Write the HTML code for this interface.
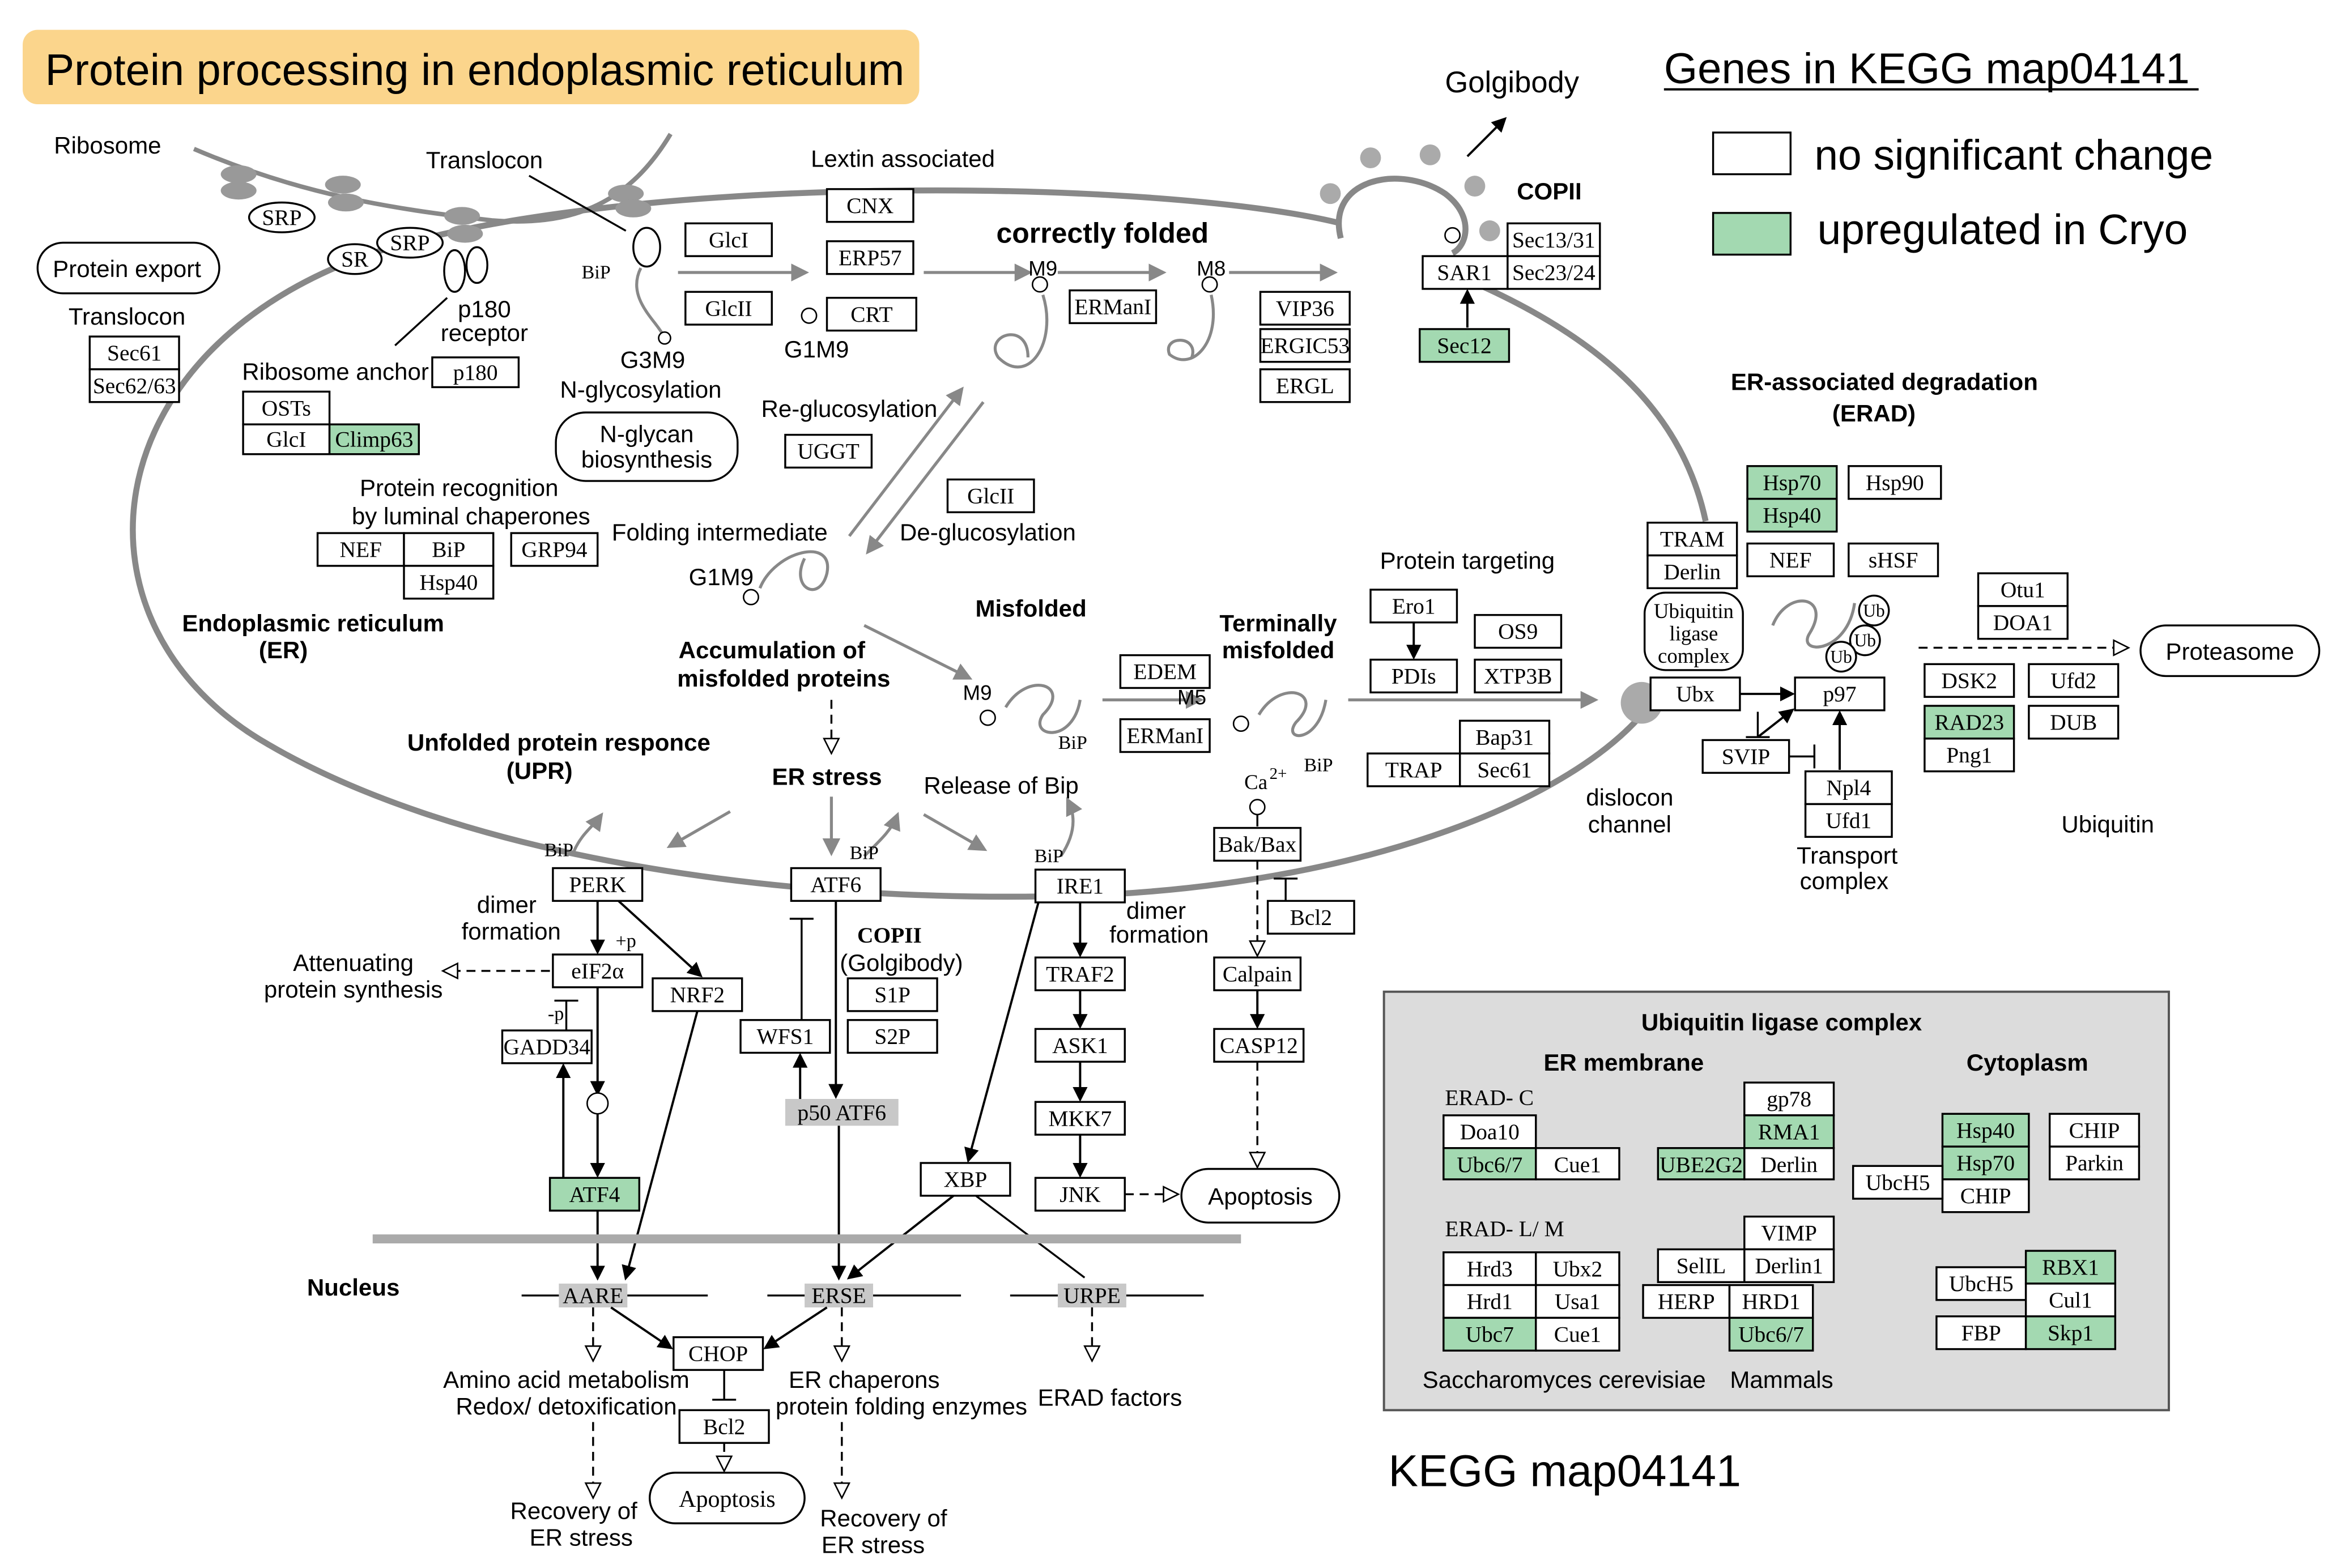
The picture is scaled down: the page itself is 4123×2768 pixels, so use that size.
<!DOCTYPE html>
<html><head><meta charset="utf-8"><style>
html,body{margin:0;padding:0;background:#fff}
svg{display:block}
.b{fill:#fff;stroke:#000;stroke-width:1.3}
.g{fill:#a3d9b1;stroke:#000;stroke-width:1.3}
.gr{fill:#c8c8c8;stroke:none}
.bt{font-family:"Liberation Serif",serif;font-size:15px;text-anchor:middle;fill:#000}
.l{font-family:"Liberation Sans",sans-serif;font-size:16px;fill:#000;text-anchor:middle}
.lb{font-family:"Liberation Sans",sans-serif;font-size:16px;fill:#000;text-anchor:middle;font-weight:bold}
.a{stroke:#000;stroke-width:1.5;fill:none;marker-end:url(#ah)}
.ga{stroke:#888;stroke-width:2;fill:none;marker-end:url(#gah)}
.d{stroke:#000;stroke-width:1.3;fill:none;stroke-dasharray:6,4;marker-end:url(#oh)}
.ln{stroke:#000;stroke-width:1.3;fill:none}
.gl{stroke:#888;stroke-width:2;fill:none}
</style></head><body>
<svg width="4123" height="2768" viewBox="0 0 1568 1053" xmlns="http://www.w3.org/2000/svg">
<defs>
<marker id="ah" markerWidth="10" markerHeight="10" refX="8" refY="5" orient="auto" markerUnits="userSpaceOnUse"><path d="M0,0 L10,5 L0,10 z" fill="#000"/></marker>
<marker id="gah" markerWidth="12" markerHeight="12" refX="9" refY="6" orient="auto" markerUnits="userSpaceOnUse"><path d="M0,0 L12,6 L0,12 z" fill="#888"/></marker>
<marker id="oh" markerWidth="12" markerHeight="12" refX="10" refY="6" orient="auto" markerUnits="userSpaceOnUse"><path d="M1,1 L11,6 L1,11 z" fill="#fff" stroke="#000"/></marker>
</defs>
<rect width="1568" height="1053" fill="#fff"/>
<!-- title -->
<rect x="15" y="20" width="602" height="50" rx="10" fill="#fbd58c"/>
<text x="30" y="57" font-family="Liberation Sans,sans-serif" font-size="29.5">Protein processing in endoplasmic reticulum</text>
<!-- legend -->
<text x="1117" y="56" font-family="Liberation Sans,sans-serif" font-size="29">Genes in KEGG map04141</text>
<line x1="1117" y1="60" x2="1476" y2="60" stroke="#000" stroke-width="1.5"/>
<rect x="1150" y="89" width="52" height="28" class="b"/>
<rect x="1150" y="143" width="52" height="28" class="g"/>
<text x="1218" y="114" font-family="Liberation Sans,sans-serif" font-size="28.5">no significant change</text>
<text x="1220" y="164" font-family="Liberation Sans,sans-serif" font-size="28.5">upregulated in Cryo</text>

<!-- ER ellipse -->
<path d="M900,150 C780,120 420,115 250,170 C60,235 40,420 180,500 C300,570 500,605 700,602 C900,600 1060,540 1110,470" stroke="#888" stroke-width="4" fill="none"/>
<path d="M990,190 C1080,230 1130,280 1145,350" stroke="#888" stroke-width="4" fill="none"/>
<path d="M900,160 C890,120 940,110 970,130 C990,145 985,165 975,170" stroke="#888" stroke-width="4" fill="none"/>
<circle cx="975" cy="158" r="5" fill="#fff" stroke="#000"/>
<g fill="#aaa"><circle cx="893" cy="130" r="7"/><circle cx="920" cy="106" r="7"/><circle cx="960" cy="104" r="7"/><circle cx="990" cy="125" r="7"/><circle cx="1000" cy="155" r="7"/></g>
<path d="M985,105 L1010,80" class="a" stroke="#777"/>
<text x="1015" y="62" class="l" style="font-size:20px">Golgibody</text>
<text x="1040" y="134" class="lb">COPII</text>
<circle cx="1102" cy="472" r="14" fill="#aaa"/>

<!-- ribosome strand -->
<path d="M130,100 C200,130 260,140 330,148 C380,152 420,140 450,90" stroke="#888" stroke-width="3" fill="none"/>
<g fill="#999"><ellipse cx="160" cy="117" rx="12" ry="6"/><ellipse cx="160" cy="128" rx="12" ry="6"/><ellipse cx="230" cy="124" rx="12" ry="6"/><ellipse cx="232" cy="136" rx="12" ry="6"/><ellipse cx="310" cy="145" rx="12" ry="6"/><ellipse cx="312" cy="157" rx="12" ry="6"/><ellipse cx="420" cy="130" rx="12" ry="6"/><ellipse cx="425" cy="140" rx="12" ry="6"/></g>
<text x="72" y="103" class="l">Ribosome</text>
<text x="325" y="113" class="l">Translocon</text>
<line x1="355" y1="118" x2="420" y2="155" class="ln"/>
<ellipse cx="189" cy="146" rx="22" ry="10" class="b"/><text x="189" y="151" class="bt">SRP</text>
<ellipse cx="275" cy="163" rx="22" ry="10" class="b"/><text x="275" y="168" class="bt">SRP</text>
<ellipse cx="238" cy="174" rx="18" ry="10" class="b"/><text x="238" y="179" class="bt">SR</text>
<ellipse cx="305" cy="182" rx="7" ry="14" class="b"/><ellipse cx="320" cy="178" rx="7" ry="12" class="b"/>
<ellipse cx="434" cy="166" rx="9" ry="13" class="b"/>
<text x="400" y="187" class="bt" style="font-size:13px">BiP</text>
<path d="M430,180 C420,200 440,215 445,225" class="gl"/>
<circle cx="446" cy="227" r="4" fill="#fff" stroke="#000"/>
<text x="325" y="213" class="l">p180</text><text x="325" y="229" class="l">receptor</text>
<line x1="300" y1="200" x2="265" y2="232" class="ln"/>
<text x="438" y="247" class="l">G3M9</text>
<text x="430" y="267" class="l">N-glycosylation</text>
<rect x="25" y="163" width="122" height="34" rx="17" class="b"/><text x="85" y="186" class="l">Protein export</text>
<text x="85" y="218" class="l">Translocon</text>
<rect x="60" y="226" width="60" height="22" class="b"/><text x="90" y="242" class="bt">Sec61</text>
<rect x="60" y="248" width="60" height="22" class="b"/><text x="90" y="264" class="bt">Sec62/63</text>
<text x="225" y="255" class="l">Ribosome anchor</text>
<rect x="290" y="240" width="58" height="20" class="b"/><text x="319" y="255" class="bt">p180</text>
<rect x="163" y="263" width="58" height="22" class="b"/><text x="192" y="279" class="bt">OSTs</text>
<rect x="163" y="285" width="58" height="20" class="b"/><text x="192" y="300" class="bt">GlcI</text>
<rect x="221" y="285" width="60" height="20" class="g"/><text x="251" y="300" class="bt">Climp63</text>
<rect x="373" y="277" width="122" height="46" rx="20" class="b"/><text x="434" y="297" class="l">N-glycan</text><text x="434" y="314" class="l">biosynthesis</text>
<text x="308" y="333" class="l">Protein recognition</text><text x="316" y="352" class="l">by luminal chaperones</text>
<rect x="213" y="358" width="58" height="22" class="b"/><text x="242" y="374" class="bt">NEF</text>
<rect x="271" y="358" width="60" height="22" class="b"/><text x="301" y="374" class="bt">BiP</text>
<rect x="271" y="380" width="60" height="22" class="b"/><text x="301" y="396" class="bt">Hsp40</text>
<rect x="343" y="358" width="58" height="22" class="b"/><text x="372" y="374" class="bt">GRP94</text>
<text x="210" y="424" class="lb">Endoplasmic reticulum</text><text x="190" y="442" class="lb">(ER)</text>

<!-- folding -->
<rect x="460" y="150" width="58" height="22" class="b"/><text x="489" y="166" class="bt">GlcI</text>
<rect x="460" y="196" width="58" height="22" class="b"/><text x="489" y="212" class="bt">GlcII</text>
<text x="606" y="112" class="l">Lextin associated</text>
<rect x="555" y="127" width="58" height="22" class="b"/><text x="584" y="143" class="bt">CNX</text>
<rect x="555" y="162" width="58" height="22" class="b"/><text x="584" y="178" class="bt">ERP57</text>
<rect x="555" y="200" width="60" height="22" class="b"/><text x="585" y="216" class="bt">CRT</text>
<circle cx="543" cy="212" r="5" fill="#fff" stroke="#000"/>
<text x="548" y="240" class="l">G1M9</text>
<line x1="455" y1="183" x2="540" y2="183" class="ga"/>
<line x1="620" y1="183" x2="690" y2="183" class="ga"/>
<text x="740" y="163" class="lb" style="font-size:19px">correctly folded</text>
<text x="700" y="185" class="l" style="font-size:14px">M9</text><circle cx="698" cy="191" r="5" fill="#fff" stroke="#000"/>
<line x1="710" y1="183" x2="780" y2="183" class="ga"/>
<text x="813" y="185" class="l" style="font-size:14px">M8</text><circle cx="812" cy="191" r="5" fill="#fff" stroke="#000"/>
<line x1="825" y1="183" x2="895" y2="183" class="ga"/>
<path d="M700,198 C710,230 690,260 670,240 C660,225 690,215 690,240" class="gl"/>
<path d="M813,198 C820,230 800,250 785,238 C780,225 805,225 800,240" class="gl"/>
<rect x="718" y="195" width="58" height="22" class="b"/><text x="747" y="211" class="bt">ERManI</text>
<rect x="846" y="196" width="60" height="22" class="b"/><text x="876" y="212" class="bt">VIP36</text>
<rect x="846" y="221" width="60" height="22" class="b"/><text x="876" y="237" class="bt">ERGIC53</text>
<rect x="846" y="248" width="60" height="22" class="b"/><text x="876" y="264" class="bt">ERGL</text>
<rect x="1012" y="150" width="62" height="22" class="b"/><text x="1043" y="166" class="bt">Sec13/31</text>
<rect x="1012" y="172" width="62" height="22" class="b"/><text x="1043" y="188" class="bt">Sec23/24</text>
<rect x="955" y="172" width="57" height="22" class="b"/><text x="983" y="188" class="bt">SAR1</text>
<rect x="953" y="221" width="60" height="22" class="g"/><text x="983" y="237" class="bt">Sec12</text>
<line x1="985" y1="220" x2="985" y2="196" class="a"/>
<text x="570" y="280" class="l">Re-glucosylation</text>
<rect x="527" y="292" width="58" height="22" class="b"/><text x="556" y="308" class="bt">UGGT</text>
<rect x="636" y="322" width="58" height="22" class="b"/><text x="665" y="338" class="bt">GlcII</text>
<text x="663" y="363" class="l">De-glucosylation</text>
<line x1="570" y1="360" x2="645" y2="262" class="ga"/>
<line x1="660" y1="270" x2="583" y2="370" class="ga"/>
<text x="483" y="363" class="l">Folding intermediate</text>
<text x="484" y="393" class="l">G1M9</text><circle cx="504" cy="401" r="5" fill="#fff" stroke="#000"/>
<path d="M510,395 C520,370 560,360 555,385 C550,405 530,395 540,375" class="gl"/>

<!-- misfolded -->
<text x="692" y="414" class="lb">Misfolded</text>
<text x="518" y="442" class="lb">Accumulation of</text><text x="526" y="461" class="lb">misfolded proteins</text>
<line x1="580" y1="420" x2="650" y2="455" class="ga"/>
<text x="656" y="470" class="l" style="font-size:14px">M9</text><circle cx="663" cy="482" r="5" fill="#fff" stroke="#000"/>
<path d="M675,475 C690,450 720,460 700,480 C690,495 720,500 725,470" class="gl"/>
<text x="720" y="503" class="bt" style="font-size:13px">BiP</text>
<line x1="740" y1="470" x2="805" y2="470" class="ga"/>
<rect x="752" y="440" width="60" height="22" class="b"/><text x="782" y="456" class="bt">EDEM</text>
<rect x="752" y="483" width="60" height="22" class="b"/><text x="782" y="499" class="bt">ERManI</text>
<text x="800" y="473" class="l" style="font-size:14px">M5</text><circle cx="833" cy="486" r="5" fill="#fff" stroke="#000"/>
<path d="M845,480 C860,455 890,465 870,485 C860,498 885,500 890,470" class="gl"/>
<text x="885" y="518" class="bt" style="font-size:13px">BiP</text>
<text x="858" y="424" class="lb">Terminally</text><text x="858" y="442" class="lb">misfolded</text>
<line x1="905" y1="470" x2="1070" y2="470" class="ga"/>
<text x="985" y="382" class="l">Protein targeting</text>
<rect x="920" y="396" width="58" height="22" class="b"/><text x="949" y="412" class="bt">Ero1</text>
<rect x="920" y="443" width="58" height="22" class="b"/><text x="949" y="459" class="bt">PDIs</text>
<line x1="949" y1="418" x2="949" y2="441" class="a"/>
<rect x="990" y="413" width="58" height="22" class="b"/><text x="1019" y="429" class="bt">OS9</text>
<rect x="990" y="443" width="58" height="22" class="b"/><text x="1019" y="459" class="bt">XTP3B</text>
<rect x="980" y="484" width="60" height="22" class="b"/><text x="1010" y="500" class="bt">Bap31</text>
<rect x="918" y="506" width="62" height="22" class="b"/><text x="949" y="522" class="bt">TRAP</text>
<rect x="980" y="506" width="60" height="22" class="b"/><text x="1010" y="522" class="bt">Sec61</text>
<text x="1094" y="541" class="l">dislocon</text><text x="1094" y="559" class="l">channel</text>

<!-- ERAD -->
<text x="1265" y="262" class="lb">ER-associated degradation</text><text x="1258" y="283" class="lb">(ERAD)</text>
<rect x="1173" y="313" width="60" height="22" class="g"/><text x="1203" y="329" class="bt">Hsp70</text>
<rect x="1173" y="335" width="60" height="22" class="g"/><text x="1203" y="351" class="bt">Hsp40</text>
<rect x="1241" y="313" width="62" height="22" class="b"/><text x="1272" y="329" class="bt">Hsp90</text>
<rect x="1106" y="351" width="60" height="22" class="b"/><text x="1136" y="367" class="bt">TRAM</text>
<rect x="1106" y="373" width="60" height="22" class="b"/><text x="1136" y="389" class="bt">Derlin</text>
<rect x="1173" y="365" width="58" height="22" class="b"/><text x="1202" y="381" class="bt">NEF</text>
<rect x="1241" y="365" width="60" height="22" class="b"/><text x="1271" y="381" class="bt">sHSF</text>
<rect x="1104" y="398" width="66" height="52" rx="14" class="b"/><text x="1137" y="415" class="bt" style="font-size:14px">Ubiquitin</text><text x="1137" y="430" class="bt" style="font-size:14px">ligase</text><text x="1137" y="445" class="bt" style="font-size:14px">complex</text>
<path d="M1190,420 C1200,395 1230,400 1215,425 C1205,440 1240,440 1245,405" class="gl"/>
<circle cx="1258" cy="410" r="10" class="b"/><text x="1258" y="414" class="bt" style="font-size:12px">Ub</text>
<circle cx="1252" cy="430" r="10" class="b"/><text x="1252" y="434" class="bt" style="font-size:12px">Ub</text>
<circle cx="1236" cy="441" r="10" class="b"/><text x="1236" y="445" class="bt" style="font-size:12px">Ub</text>
<rect x="1328" y="385" width="60" height="22" class="b"/><text x="1358" y="401" class="bt">Otu1</text>
<rect x="1328" y="407" width="60" height="22" class="b"/><text x="1358" y="423" class="bt">DOA1</text>
<line x1="1288" y1="435" x2="1428" y2="435" class="d"/>
<rect x="1437" y="420" width="120" height="34" rx="17" class="b"/><text x="1497" y="443" class="l">Proteasome</text>
<rect x="1108" y="455" width="60" height="22" class="b"/><text x="1138" y="471" class="bt">Ubx</text>
<rect x="1205" y="455" width="60" height="22" class="b"/><text x="1235" y="471" class="bt">p97</text>
<line x1="1168" y1="466" x2="1203" y2="466" class="a"/>
<rect x="1292" y="446" width="60" height="22" class="b"/><text x="1322" y="462" class="bt">DSK2</text>
<rect x="1362" y="446" width="60" height="22" class="b"/><text x="1392" y="462" class="bt">Ufd2</text>
<rect x="1292" y="474" width="60" height="22" class="g"/><text x="1322" y="490" class="bt">RAD23</text>
<rect x="1362" y="474" width="60" height="22" class="b"/><text x="1392" y="490" class="bt">DUB</text>
<rect x="1292" y="496" width="60" height="22" class="b"/><text x="1322" y="512" class="bt">Png1</text>
<rect x="1143" y="497" width="58" height="22" class="b"/><text x="1172" y="513" class="bt">SVIP</text>
<line x1="1180" y1="495" x2="1203" y2="477" class="a"/>
<line x1="1201" y1="508" x2="1218" y2="508" class="ln"/><line x1="1218" y1="500" x2="1218" y2="516" class="ln"/>
<line x1="1180" y1="478" x2="1180" y2="495" class="ln"/><line x1="1172" y1="495" x2="1188" y2="495" class="ln"/>
<rect x="1212" y="518" width="58" height="22" class="b"/><text x="1241" y="534" class="bt">Npl4</text>
<rect x="1212" y="540" width="58" height="22" class="b"/><text x="1241" y="556" class="bt">Ufd1</text>
<line x1="1235" y1="517" x2="1235" y2="479" class="a"/>
<text x="1240" y="580" class="l">Transport</text><text x="1238" y="597" class="l">complex</text>
<text x="1415" y="559" class="l">Ubiquitin</text>

<!-- UPR -->
<text x="375" y="504" class="lb">Unfolded protein responce</text><text x="362" y="523" class="lb">(UPR)</text>
<text x="555" y="527" class="lb">ER stress</text>
<line x1="558" y1="470" x2="558" y2="505" class="d"/>
<text x="672" y="533" class="l">Release of Bip</text>
<line x1="490" y1="545" x2="450" y2="568" class="ga"/>
<line x1="558" y1="535" x2="558" y2="572" class="ga"/>
<line x1="620" y1="547" x2="660" y2="570" class="ga"/>
<path d="M385,572 C390,560 398,555 403,548" class="ga"/>
<path d="M580,575 C590,565 598,558 602,548" class="ga"/>
<path d="M712,575 C722,560 722,548 717,538" class="ga"/>
<text x="375" y="575" class="bt" style="font-size:13px">BiP</text>
<text x="580" y="577" class="bt" style="font-size:13px">BiP</text>
<text x="704" y="579" class="bt" style="font-size:13px">BiP</text>
<text x="843" y="530" class="bt" style="font-size:14px">Ca</text><text x="858" y="523" class="bt" style="font-size:11px">2+</text>
<circle cx="844" cy="542" r="5" fill="#fff" stroke="#000"/><line x1="844" y1="547" x2="844" y2="555" class="ln"/>
<rect x="371" y="583" width="60" height="22" class="b"/><text x="401" y="599" class="bt">PERK</text>
<rect x="531" y="583" width="60" height="22" class="b"/><text x="561" y="599" class="bt">ATF6</text>
<rect x="695" y="584" width="60" height="22" class="b"/><text x="725" y="600" class="bt">IRE1</text>
<rect x="815" y="556" width="58" height="22" class="b"/><text x="844" y="572" class="bt">Bak/Bax</text>
<text x="340" y="613" class="l">dimer</text><text x="343" y="631" class="l">formation</text>
<text x="776" y="617" class="l">dimer</text><text x="778" y="633" class="l">formation</text>
<rect x="371" y="641" width="60" height="22" class="b"/><text x="401" y="657" class="bt">eIF2α</text>
<line x1="401" y1="605" x2="401" y2="639" class="a"/>
<text x="420" y="636" class="bt" style="font-size:13px">+p</text>
<line x1="415" y1="605" x2="470" y2="655" class="a"/>
<rect x="438" y="657" width="60" height="22" class="b"/><text x="468" y="673" class="bt">NRF2</text>
<line x1="369" y1="652" x2="298" y2="652" class="d"/>
<text x="237" y="652" class="l">Attenuating</text><text x="237" y="670" class="l">protein synthesis</text>
<rect x="337" y="692" width="60" height="22" class="b"/><text x="367" y="708" class="bt">GADD34</text>
<text x="373" y="685" class="bt" style="font-size:13px">-p</text>
<line x1="380" y1="692" x2="380" y2="672" class="ln"/><line x1="372" y1="672" x2="388" y2="672" class="ln"/>
<line x1="401" y1="663" x2="401" y2="734" class="a"/>
<circle cx="401" cy="741" r="7" fill="#fff" stroke="#000"/>
<line x1="401" y1="748" x2="401" y2="789" class="a"/>
<rect x="369" y="791" width="60" height="22" class="g"/><text x="399" y="807" class="bt">ATF4</text>
<line x1="378" y1="791" x2="378" y2="716" class="a"/>
<line x1="468" y1="679" x2="420" y2="858" class="a"/>
<line x1="401" y1="813" x2="401" y2="858" class="a"/>
<rect x="497" y="685" width="60" height="22" class="b"/><text x="527" y="701" class="bt">WFS1</text>
<line x1="538" y1="685" x2="538" y2="617" class="ln"/><line x1="530" y1="617" x2="546" y2="617" class="ln"/>
<line x1="561" y1="605" x2="561" y2="736" class="a"/>
<line x1="537" y1="738" x2="537" y2="709" class="a"/>
<text x="597" y="633" class="bt" font-weight="bold">COPII</text>
<text x="605" y="652" class="l">(Golgibody)</text>
<rect x="569" y="657" width="60" height="22" class="b"/><text x="599" y="673" class="bt">S1P</text>
<rect x="569" y="685" width="60" height="22" class="b"/><text x="599" y="701" class="bt">S2P</text>
<rect x="527" y="738" width="76" height="18" class="gr"/><text x="565" y="752" class="bt">p50 ATF6</text>
<line x1="563" y1="756" x2="563" y2="858" class="a"/>
<rect x="695" y="643" width="60" height="22" class="b"/><text x="725" y="659" class="bt">TRAF2</text>
<line x1="725" y1="606" x2="725" y2="641" class="a"/>
<rect x="695" y="691" width="60" height="22" class="b"/><text x="725" y="707" class="bt">ASK1</text>
<line x1="725" y1="665" x2="725" y2="689" class="a"/>
<rect x="695" y="740" width="60" height="22" class="b"/><text x="725" y="756" class="bt">MKK7</text>
<line x1="725" y1="713" x2="725" y2="738" class="a"/>
<rect x="695" y="791" width="60" height="22" class="b"/><text x="725" y="807" class="bt">JNK</text>
<line x1="725" y1="762" x2="725" y2="789" class="a"/>
<line x1="755" y1="802" x2="790" y2="802" class="d"/>
<rect x="793" y="785" width="106" height="36" rx="18" class="b"/><text x="846" y="809" class="l">Apoptosis</text>
<line x1="697" y1="606" x2="650" y2="779" class="a"/>
<rect x="618" y="781" width="60" height="22" class="b"/><text x="648" y="797" class="bt">XBP</text>
<line x1="640" y1="803" x2="570" y2="858" class="a"/>
<line x1="655" y1="803" x2="728" y2="858" class="ln" stroke="#666"/>
<line x1="844" y1="578" x2="844" y2="641" class="d"/>
<rect x="851" y="605" width="58" height="22" class="b"/><text x="880" y="621" class="bt">Bcl2</text>
<line x1="863" y1="605" x2="863" y2="590" class="ln"/><line x1="855" y1="590" x2="871" y2="590" class="ln"/>
<rect x="815" y="643" width="58" height="22" class="b"/><text x="844" y="659" class="bt">Calpain</text>
<line x1="844" y1="665" x2="844" y2="689" class="a"/>
<rect x="815" y="691" width="60" height="22" class="b"/><text x="845" y="707" class="bt">CASP12</text>
<line x1="844" y1="713" x2="844" y2="783" class="d"/>

<!-- nucleus -->
<line x1="250" y1="832" x2="833" y2="832" stroke="#aaa" stroke-width="6"/>
<text x="237" y="870" class="lb">Nucleus</text>
<line x1="350" y1="870" x2="475" y2="870" class="ln"/>
<line x1="515" y1="870" x2="645" y2="870" class="ln"/>
<line x1="678" y1="870" x2="808" y2="870" class="ln"/>
<rect x="375" y="862" width="46" height="16" class="gr"/><text x="398" y="875" class="bt">AARE</text>
<rect x="540" y="862" width="46" height="16" class="gr"/><text x="563" y="875" class="bt">ERSE</text>
<rect x="710" y="862" width="46" height="16" class="gr"/><text x="733" y="875" class="bt">URPE</text>
<line x1="410" y1="878" x2="450" y2="905" class="a"/>
<line x1="555" y1="878" x2="514" y2="905" class="a"/>
<rect x="452" y="898" width="60" height="22" class="b"/><text x="482" y="914" class="bt">CHOP</text>
<line x1="486" y1="920" x2="486" y2="940" class="ln"/><line x1="478" y1="940" x2="494" y2="940" class="ln"/>
<rect x="456" y="947" width="60" height="22" class="b"/><text x="486" y="963" class="bt">Bcl2</text>
<line x1="486" y1="969" x2="486" y2="987" class="d"/>
<rect x="436" y="989" width="104" height="34" rx="17" class="b"/><text x="488" y="1012" class="bt" style="font-size:16px">Apoptosis</text>
<line x1="398" y1="878" x2="398" y2="913" class="d"/>
<line x1="565" y1="878" x2="565" y2="913" class="d"/>
<line x1="733" y1="878" x2="733" y2="913" class="d"/>
<text x="380" y="932" class="l">Amino acid metabolism</text><text x="380" y="950" class="l">Redox/ detoxification</text>
<text x="580" y="932" class="l">ER chaperons</text><text x="605" y="950" class="l">protein folding enzymes</text>
<text x="745" y="944" class="l">ERAD factors</text>
<line x1="398" y1="955" x2="398" y2="1005" class="d"/>
<line x1="565" y1="955" x2="565" y2="1005" class="d"/>
<text x="385" y="1020" class="l">Recovery of</text><text x="390" y="1038" class="l">ER stress</text>
<text x="593" y="1025" class="l">Recovery of</text><text x="586" y="1043" class="l">ER stress</text>

<!-- ubiquitin ligase panel -->
<rect x="929" y="666" width="527" height="281" fill="#dcdcdc" stroke="#555" stroke-width="1.5"/>
<text x="1196" y="692" class="lb">Ubiquitin ligase complex</text>
<text x="1090" y="719" class="lb">ER membrane</text>
<text x="1361" y="719" class="lb">Cytoplasm</text>
<text x="970" y="742" class="bt" style="text-anchor:start">ERAD- C</text>
<rect x="969" y="749" width="62" height="22" class="b"/><text x="1000" y="765" class="bt">Doa10</text>
<rect x="969" y="771" width="62" height="21" class="g"/><text x="1000" y="787" class="bt">Ubc6/7</text>
<rect x="1031" y="771" width="56" height="21" class="b"/><text x="1059" y="787" class="bt">Cue1</text>
<rect x="1171" y="727" width="60" height="22" class="b"/><text x="1201" y="743" class="bt">gp78</text>
<rect x="1171" y="749" width="60" height="22" class="g"/><text x="1201" y="765" class="bt">RMA1</text>
<rect x="1171" y="771" width="60" height="21" class="b"/><text x="1201" y="787" class="bt">Derlin</text>
<rect x="1113" y="771" width="58" height="21" class="g"/><text x="1142" y="787" class="bt">UBE2G2</text>
<rect x="1304" y="748" width="58" height="22" class="g"/><text x="1333" y="764" class="bt">Hsp40</text>
<rect x="1304" y="770" width="58" height="22" class="g"/><text x="1333" y="786" class="bt">Hsp70</text>
<rect x="1304" y="792" width="58" height="22" class="b"/><text x="1333" y="808" class="bt">CHIP</text>
<rect x="1244" y="783" width="60" height="22" class="b"/><text x="1274" y="799" class="bt">UbcH5</text>
<rect x="1376" y="748" width="60" height="22" class="b"/><text x="1406" y="764" class="bt">CHIP</text>
<rect x="1376" y="770" width="60" height="22" class="b"/><text x="1406" y="786" class="bt">Parkin</text>
<text x="970" y="830" class="bt" style="text-anchor:start">ERAD- L/ M</text>
<rect x="969" y="841" width="62" height="22" class="b"/><text x="1000" y="857" class="bt">Hrd3</text>
<rect x="1031" y="841" width="56" height="22" class="b"/><text x="1059" y="857" class="bt">Ubx2</text>
<rect x="969" y="863" width="62" height="22" class="b"/><text x="1000" y="879" class="bt">Hrd1</text>
<rect x="1031" y="863" width="56" height="22" class="b"/><text x="1059" y="879" class="bt">Usa1</text>
<rect x="969" y="885" width="62" height="22" class="g"/><text x="1000" y="901" class="bt">Ubc7</text>
<rect x="1031" y="885" width="56" height="22" class="b"/><text x="1059" y="901" class="bt">Cue1</text>
<rect x="1171" y="817" width="60" height="22" class="b"/><text x="1201" y="833" class="bt">VIMP</text>
<rect x="1171" y="839" width="60" height="22" class="b"/><text x="1201" y="855" class="bt">Derlin1</text>
<rect x="1113" y="839" width="58" height="22" class="b"/><text x="1142" y="855" class="bt">SelIL</text>
<rect x="1103" y="863" width="58" height="22" class="b"/><text x="1132" y="879" class="bt">HERP</text>
<rect x="1161" y="863" width="56" height="22" class="b"/><text x="1189" y="879" class="bt">HRD1</text>
<rect x="1161" y="885" width="56" height="22" class="g"/><text x="1189" y="901" class="bt">Ubc6/7</text>
<rect x="1300" y="851" width="60" height="22" class="b"/><text x="1330" y="867" class="bt">UbcH5</text>
<rect x="1360" y="840" width="60" height="22" class="g"/><text x="1390" y="856" class="bt">RBX1</text>
<rect x="1360" y="862" width="60" height="22" class="b"/><text x="1390" y="878" class="bt">Cul1</text>
<rect x="1300" y="884" width="60" height="22" class="b"/><text x="1330" y="900" class="bt">FBP</text>
<rect x="1360" y="884" width="60" height="22" class="g"/><text x="1390" y="900" class="bt">Skp1</text>
<text x="1050" y="932" class="l">Saccharomyces cerevisiae</text>
<text x="1196" y="932" class="l">Mammals</text>
<text x="932" y="998" font-family="Liberation Sans,sans-serif" font-size="30">KEGG map04141</text>
</svg>
</body></html>
